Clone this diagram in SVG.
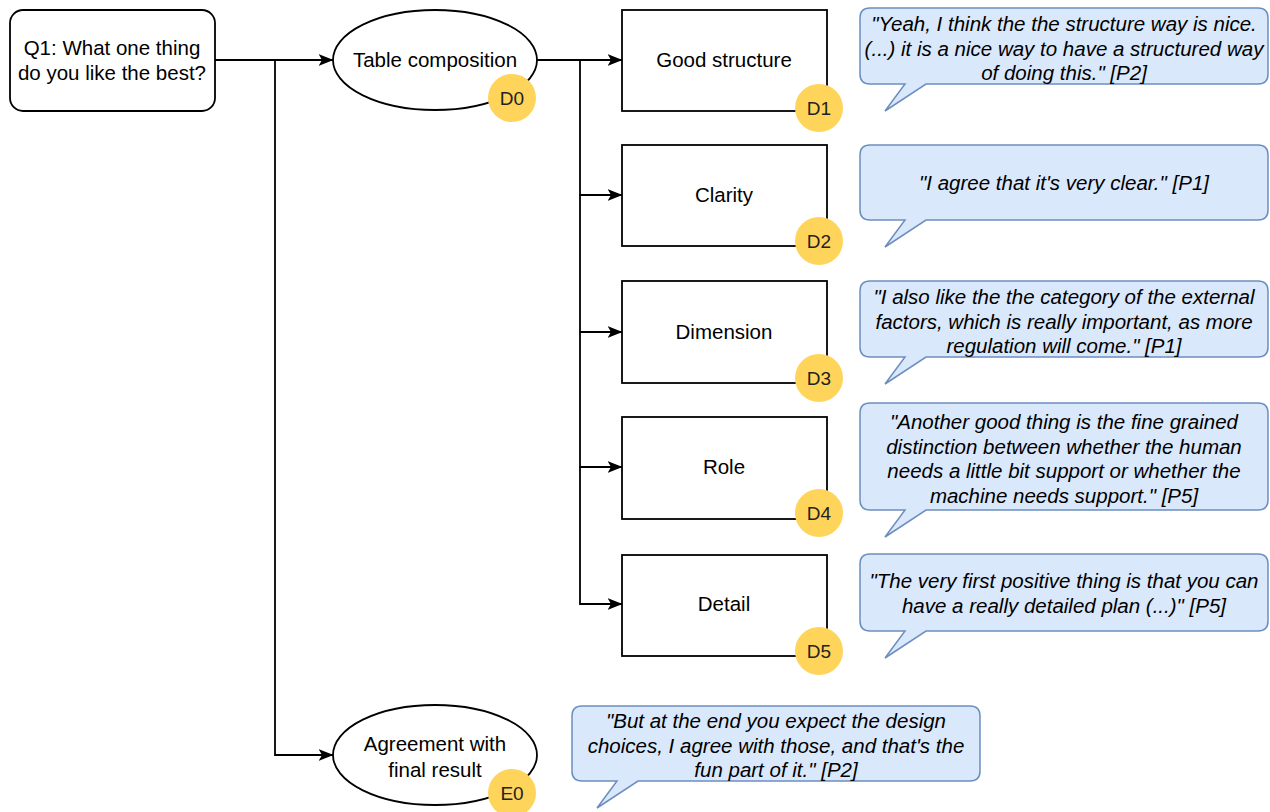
<svg xmlns="http://www.w3.org/2000/svg" width="1270" height="812" viewBox="0 0 1270 812">
  <style>
    .node { fill: #ffffff; stroke: #000000; stroke-width: 1.8; }
    .label { font-family: "Liberation Sans", Arial, sans-serif; font-size: 20.5px; fill: #000000; text-anchor: middle; }
    .badge { fill: #FFD45A; stroke: none; }
    .badge-text { font-family: "Liberation Sans", Arial, sans-serif; font-size: 19px; fill: #222222; text-anchor: middle; }
    .bubble { fill: #DAE8FC; stroke: #6C8EBF; stroke-width: 1.5; }
    .quote { font-family: "Liberation Sans", Arial, sans-serif; font-size: 20.5px; font-style: italic; fill: #000000; text-anchor: middle; }
    .edge { fill: none; stroke: #000000; stroke-width: 1.8; }
  </style>
  <defs>
    <marker id="arrow" viewBox="0 0 15 12" refX="14.5" refY="6" markerWidth="15" markerHeight="12" markerUnits="userSpaceOnUse" orient="auto">
      <path d="M0,0 L15,6 L0,12 L3.5,6 Z" fill="#000000"/>
    </marker>
  </defs>
  <rect width="1270" height="812" fill="#ffffff"/>

  <!-- connectors -->
  <g id="connectors">
    <path class="edge" d="M215,60 H333" marker-end="url(#arrow)"/>
    <path class="edge" d="M275,60 V755 H333" marker-end="url(#arrow)"/>
    <path class="edge" d="M537,60 H622" marker-end="url(#arrow)"/>
    <path class="edge" d="M580,60 V195 H622" marker-end="url(#arrow)"/>
    <path class="edge" d="M580,195 V332 H622" marker-end="url(#arrow)"/>
    <path class="edge" d="M580,332 V467 H622" marker-end="url(#arrow)"/>
    <path class="edge" d="M580,467 V604 H622" marker-end="url(#arrow)"/>
  </g>

  <!-- question -->
  <g id="q1">
    <rect class="node" x="10" y="10" width="205" height="101" rx="13"/>
    <text class="label" x="112" y="55">Q1: What one thing</text>
    <text class="label" x="112" y="80">do you like the best?</text>
  </g>

  <!-- themes -->
  <g id="d0">
    <ellipse class="node" cx="435" cy="60" rx="102" ry="50"/>
    <text class="label" x="435" y="67">Table composition</text>
    <circle class="badge" cx="512" cy="98" r="24"/>
    <text class="badge-text" x="512" y="105">D0</text>
  </g>
  <g id="e0">
    <ellipse class="node" cx="435" cy="755" rx="102" ry="50"/>
    <text class="label" x="435" y="751">Agreement with</text>
    <text class="label" x="435" y="777">final result</text>
    <circle class="badge" cx="512" cy="793" r="24"/>
    <text class="badge-text" x="512" y="800">E0</text>
  </g>

  <!-- sub-themes -->
  <g id="d1">
    <rect class="node" x="622" y="10" width="205" height="101"/>
    <text class="label" x="724" y="67">Good structure</text>
    <circle class="badge" cx="819" cy="108" r="24"/>
    <text class="badge-text" x="819" y="115">D1</text>
  </g>
  <g id="d2">
    <rect class="node" x="622" y="145" width="205" height="101"/>
    <text class="label" x="724" y="202">Clarity</text>
    <circle class="badge" cx="819" cy="241" r="24"/>
    <text class="badge-text" x="819" y="248">D2</text>
  </g>
  <g id="d3">
    <rect class="node" x="622" y="281" width="205" height="102"/>
    <text class="label" x="724" y="339">Dimension</text>
    <circle class="badge" cx="819" cy="378" r="24"/>
    <text class="badge-text" x="819" y="385">D3</text>
  </g>
  <g id="d4">
    <rect class="node" x="622" y="417" width="205" height="102"/>
    <text class="label" x="724" y="474">Role</text>
    <circle class="badge" cx="819" cy="513" r="24"/>
    <text class="badge-text" x="819" y="520">D4</text>
  </g>
  <g id="d5">
    <rect class="node" x="622" y="555" width="205" height="101"/>
    <text class="label" x="724" y="611">Detail</text>
    <circle class="badge" cx="819" cy="651" r="24"/>
    <text class="badge-text" x="819" y="658">D5</text>
  </g>

  <!-- quotes -->
  <g id="quote-d1">
    <path class="bubble" d="M870,8 H1258 Q1268,8 1268,18 V74 Q1268,84 1258,84 H926 L885,111 L905,84 H870 Q860,84 860,74 V18 Q860,8 870,8 Z"/>
    <text class="quote" x="1064" y="31">"Yeah, I think the the structure way is nice.</text>
    <text class="quote" x="1064" y="55.5">(...) it is a nice way to have a structured way</text>
    <text class="quote" x="1064" y="80">of doing this." [P2]</text>
  </g>
  <g id="quote-d2">
    <path class="bubble" d="M870,145 H1258 Q1268,145 1268,155 V210 Q1268,220 1258,220 H926 L885,247 L905,220 H870 Q860,220 860,210 V155 Q860,145 870,145 Z"/>
    <text class="quote" x="1064" y="190">"I agree that it's very clear." [P1]</text>
  </g>
  <g id="quote-d3">
    <path class="bubble" d="M870,281 H1258 Q1268,281 1268,291 V347 Q1268,357 1258,357 H926 L885,384 L905,357 H870 Q860,357 860,347 V291 Q860,281 870,281 Z"/>
    <text class="quote" x="1064" y="304">"I also like the the category of the external</text>
    <text class="quote" x="1064" y="328.5">factors, which is really important, as more</text>
    <text class="quote" x="1064" y="353">regulation will come." [P1]</text>
  </g>
  <g id="quote-d4">
    <path class="bubble" d="M870,403 H1258 Q1268,403 1268,413 V500 Q1268,510 1258,510 H926 L885,537 L905,510 H870 Q860,510 860,500 V413 Q860,403 870,403 Z"/>
    <text class="quote" x="1064" y="429">"Another good thing is the fine grained</text>
    <text class="quote" x="1064" y="453.5">distinction between whether the human</text>
    <text class="quote" x="1064" y="478">needs a little bit support or whether the</text>
    <text class="quote" x="1064" y="502.5">machine needs support." [P5]</text>
  </g>
  <g id="quote-d5">
    <path class="bubble" d="M870,554 H1258 Q1268,554 1268,564 V621 Q1268,631 1258,631 H926 L885,658 L905,631 H870 Q860,631 860,621 V564 Q860,554 870,554 Z"/>
    <text class="quote" x="1064" y="588">"The very first positive thing is that you can</text>
    <text class="quote" x="1064" y="613">have a really detailed plan (...)" [P5]</text>
  </g>
  <g id="quote-e0">
    <path class="bubble" d="M582,706 H970 Q980,706 980,716 V771 Q980,781 970,781 H638 L597,808 L617,781 H582 Q572,781 572,771 V716 Q572,706 582,706 Z"/>
    <text class="quote" x="776" y="728">"But at the end you expect the design</text>
    <text class="quote" x="776" y="752.5">choices, I agree with those, and that's the</text>
    <text class="quote" x="776" y="777">fun part of it." [P2]</text>
  </g>
</svg>
